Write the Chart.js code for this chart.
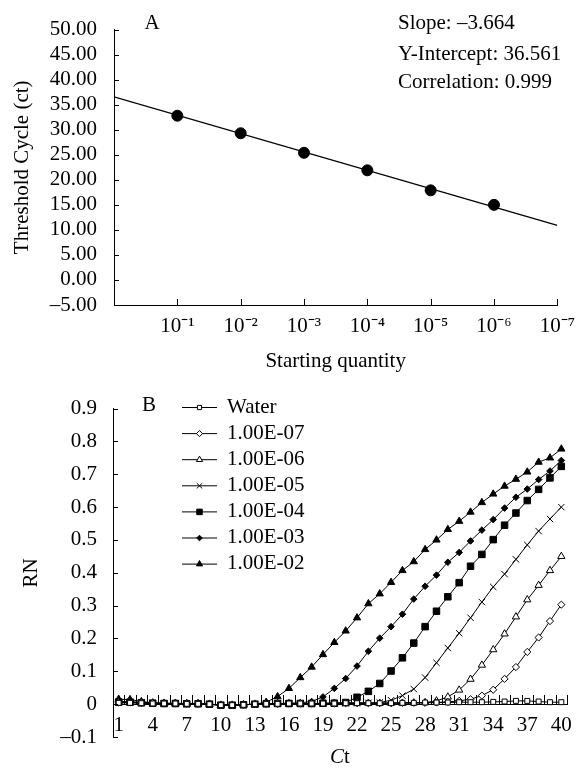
<!DOCTYPE html>
<html>
<head>
<meta charset="utf-8">
<script src="https://cdn.jsdelivr.net/npm/chart.js@4.4.1/dist/chart.umd.min.js"></script>
<style>
  html, body { margin: 0; padding: 0; background: #fff; }
  .box { position: relative; width: 584px; }
  #boxA { height: 380px; }
  #boxB { height: 390px; }
</style>
</head>
<body>
<div class="box" id="boxA"><canvas id="chartA"></canvas></div>
<div class="box" id="boxB"><canvas id="chartB"></canvas></div>
<script>
'use strict';

// ---- panel A: standard curve ----
const quantityPos = [1, 2, 3, 4, 5, 6];
const thresholdCycles = [32.8, 29.3, 25.4, 21.9, 17.9, 15.0];
const trendX = [0, 7];
const trendY = [36.56, 10.91];
const quantityTicks = [1, 2, 3, 4, 5, 6, 7];
const quantityLabels = ['10⁻¹', '10⁻²', '10⁻³', '10⁻⁴', '10⁻⁵', '10⁻⁶', '10⁻⁷'];
const statLines = ['Slope: –3.664', 'Y-Intercept: 36.561', 'Correlation: 0.999'];

// ---- panel B: amplification curves ----
const cycles = ['1', '2', '3', '4', '5', '6', '7', '8', '9', '10',
  '11', '12', '13', '14', '15', '16', '17', '18', '19', '20',
  '21', '22', '23', '24', '25', '26', '27', '28', '29', '30',
  '31', '32', '33', '34', '35', '36', '37', '38', '39', '40'];
const seriesNames = ['Water', '1.00E-07', '1.00E-06', '1.00E-05', '1.00E-04', '1.00E-03', '1.00E-02'];
const water = [0.004, 0.004, 0.003, 0.002, 0.002, 0.002, 0.001, 0.001, 0.000, -0.003,
  -0.003, -0.002, 0.000, 0.001, 0.001, 0.002, 0.002, 0.002, 0.002, 0.002,
  0.003, 0.003, 0.003, 0.003, 0.003, 0.004, 0.004, 0.005, 0.005, 0.005,
  0.006, 0.006, 0.006, 0.007, 0.008, 0.010, 0.010, 0.008, 0.006, 0.006];
const e07 = [0.005, 0.005, 0.004, 0.003, 0.002, 0.002, 0.002, 0.001, 0.000, -0.002,
  -0.002, -0.002, 0.000, 0.001, 0.001, 0.002, 0.002, 0.002, 0.002, 0.002,
  0.003, 0.003, 0.003, 0.003, 0.003, 0.004, 0.004, 0.004, 0.005, 0.007,
  0.010, 0.015, 0.026, 0.044, 0.077, 0.113, 0.159, 0.203, 0.253, 0.303];
const e06 = [0.006, 0.006, 0.004, 0.003, 0.002, 0.002, 0.001, 0.001, 0.000, -0.003,
  -0.003, -0.002, 0.000, 0.001, 0.002, 0.002, 0.002, 0.002, 0.002, 0.003,
  0.003, 0.003, 0.003, 0.003, 0.003, 0.003, 0.004, 0.005, 0.010, 0.022,
  0.043, 0.076, 0.119, 0.166, 0.214, 0.266, 0.318, 0.362, 0.407, 0.450];
const e05 = [0.008, 0.007, 0.005, 0.003, 0.002, 0.002, 0.001, 0.001, 0.000, -0.003,
  -0.003, -0.002, 0.000, 0.001, 0.002, 0.002, 0.002, 0.002, 0.002, 0.003,
  0.003, 0.003, 0.004, 0.005, 0.012, 0.026, 0.046, 0.081, 0.126, 0.171,
  0.216, 0.263, 0.311, 0.357, 0.396, 0.441, 0.485, 0.527, 0.564, 0.600];
const e04 = [0.006, 0.006, 0.004, 0.003, 0.002, 0.002, 0.001, 0.001, 0.000, -0.003,
  -0.003, -0.002, 0.000, 0.001, 0.002, 0.002, 0.002, 0.002, 0.003, 0.003,
  0.005, 0.021, 0.039, 0.063, 0.101, 0.141, 0.186, 0.236, 0.283, 0.327,
  0.370, 0.420, 0.456, 0.501, 0.545, 0.582, 0.620, 0.654, 0.689, 0.724];
const e03 = [0.008, 0.007, 0.005, 0.003, 0.002, 0.002, 0.001, 0.001, 0.000, -0.003,
  -0.003, -0.002, 0.000, 0.001, 0.002, 0.003, 0.004, 0.008, 0.022, 0.048,
  0.078, 0.116, 0.161, 0.201, 0.236, 0.274, 0.320, 0.359, 0.393, 0.432,
  0.462, 0.497, 0.530, 0.562, 0.597, 0.630, 0.655, 0.684, 0.710, 0.742];
const e02 = [0.015, 0.014, 0.008, 0.004, 0.003, 0.003, 0.002, 0.002, 0.000, -0.003,
  -0.003, -0.002, 0.000, 0.006, 0.023, 0.048, 0.081, 0.113, 0.151, 0.188,
  0.223, 0.263, 0.306, 0.336, 0.371, 0.407, 0.434, 0.471, 0.500, 0.532,
  0.557, 0.585, 0.614, 0.640, 0.664, 0.685, 0.707, 0.737, 0.750, 0.777];

const SERIF = "'Liberation Serif', 'Times New Roman', serif";
const tickFont = { family: SERIF, size: 21 };
const titleFont = { family: SERIF, size: 21 };

function fmtMinus(s) {
  return s.replace('-', '–');
}

// short tick marks drawn inside the plot, like Excel
function drawYTicks(chart, len) {
  const ctx = chart.ctx;
  const ys = chart.scales.y;
  const left = chart.chartArea.left;
  ctx.beginPath();
  for (const t of ys.ticks) {
    const py = Math.round(ys.getPixelForValue(t.value)) + 0.5;
    ctx.moveTo(left, py);
    ctx.lineTo(left + len, py);
  }
  ctx.stroke();
}

const decorA = {
  id: 'decorA',
  afterDraw(chart) {
    const ctx = chart.ctx;
    const xs = chart.scales.x;
    const ys = chart.scales.y;
    ctx.save();
    ctx.strokeStyle = '#000';
    ctx.lineWidth = 1;
    drawYTicks(chart, 5);
    const base = Math.round(ys.getPixelForValue(-5));
    ctx.beginPath();
    for (const v of quantityTicks) {
      const px = Math.round(xs.getPixelForValue(v)) + 0.5;
      ctx.moveTo(px, base);
      ctx.lineTo(px, base - 6);
    }
    ctx.stroke();

    ctx.fillStyle = '#000';
    ctx.font = '21px ' + SERIF;
    ctx.textBaseline = 'middle';
    ctx.textAlign = 'center';
    ctx.fillText('A', 152, 23);
    ctx.textAlign = 'left';
    const lineY = [23, 54, 82];
    statLines.forEach((s, i) => ctx.fillText(s, 398, lineY[i]));
    ctx.restore();
  }
};

const chartA = new Chart(document.getElementById('chartA'), {
  type: 'scatter',
  data: {
    datasets: [{
      data: trendX.map((x, i) => ({ x: x, y: trendY[i] })),
      showLine: true,
      borderColor: '#000',
      borderWidth: 1.3,
      pointRadius: 0
    }, {
      data: quantityPos.map((x, i) => ({ x: x, y: thresholdCycles[i] })),
      pointRadius: 5.5,
      pointHoverRadius: 5.5,
      backgroundColor: '#000',
      borderColor: '#000'
    }]
  },
  options: {
    responsive: true,
    maintainAspectRatio: false,
    animation: false,
    layout: { padding: { top: 21, right: 17, left: 0, bottom: 0 } },
    plugins: { legend: { display: false }, tooltip: { enabled: false } },
    scales: {
      x: {
        type: 'linear',
        min: 0,
        max: 7,
        afterFit: s => { s.height = 75; },
        grid: { display: false, drawTicks: false },
        border: { display: true, color: '#000', width: 1 },
        ticks: {
          stepSize: 1,
          autoSkip: false,
          color: '#000',
          font: tickFont,
          padding: 9,
          maxRotation: 0,
          callback: v => (v === 0 ? '' : quantityLabels[quantityTicks.indexOf(v)])
        },
        title: { display: true, text: 'Starting quantity', color: '#000', font: titleFont, padding: { top: 0, bottom: 6 } }
      },
      y: {
        min: -5,
        max: 50,
        afterFit: s => { s.width = 114; },
        grid: { display: false, drawTicks: false },
        border: { display: true, color: '#000', width: 1 },
        ticks: {
          stepSize: 5,
          autoSkip: false,
          color: '#000',
          font: tickFont,
          padding: 17,
          callback: v => fmtMinus(v.toFixed(2))
        },
        title: { display: true, text: 'Threshold Cycle (ct)', color: '#000', font: titleFont, padding: { top: 10, bottom: 0 } }
      }
    }
  },
  plugins: [decorA]
});

// marker styles per series
const markerStyle = ['rect', 'rectRot', 'triangle', 'crossRot', 'rect', 'rectRot', 'triangle'];
const markerSize = [3.5, 3.6, 4.2, 4.5, 4.6, 3.3, 4.2];
const markerFill = ['#fff', '#fff', '#fff', '#000', '#000', '#000', '#000'];
const seriesData = [water, e07, e06, e05, e04, e03, e02];

const decorB = {
  id: 'decorB',
  afterDraw(chart) {
    const ctx = chart.ctx;
    const xs = chart.scales.x;
    const ys = chart.scales.y;
    ctx.save();
    ctx.strokeStyle = '#000';
    ctx.lineWidth = 1;
    drawYTicks(chart, 5);
    // category boundary ticks on the zero line
    const zero = Math.round(ys.getPixelForValue(0));
    const step = xs.getPixelForValue(1) - xs.getPixelForValue(0);
    const start = xs.getPixelForValue(0) - step / 2;
    ctx.beginPath();
    for (let i = 0; i <= cycles.length; i++) {
      const px = Math.round(start + i * step) + 0.5;
      ctx.moveTo(px, zero);
      ctx.lineTo(px, zero - 9);
    }
    ctx.stroke();

    // legend inside the plot
    ctx.font = '21px ' + SERIF;
    ctx.textBaseline = 'middle';
    ctx.textAlign = 'left';
    chart.data.datasets.forEach((ds, i) => {
      const yy = 27 + i * 26.1;
      ctx.strokeStyle = '#000';
      ctx.beginPath();
      ctx.moveTo(182, yy + 0.5);
      ctx.lineTo(217, yy + 0.5);
      ctx.stroke();
      ctx.fillStyle = markerFill[i];
      Chart.helpers.drawPoint(ctx, {
        pointStyle: markerStyle[i],
        radius: markerSize[i] * 0.85,
        rotation: 0,
        borderWidth: 1
      }, 199.5, yy + 0.5);
      ctx.fillStyle = '#000';
      ctx.fillText(ds.label, 227, yy);
    });

    ctx.textAlign = 'center';
    ctx.fillText('B', 149, 25);

    // axis title: italic C + upright t
    const ty = 377;
    ctx.font = 'italic 21px ' + SERIF;
    const wC = ctx.measureText('C').width;
    ctx.font = '21px ' + SERIF;
    const wt = ctx.measureText('t').width;
    const cx = (chart.chartArea.left + chart.chartArea.right) / 2;
    const x0 = cx - (wC + wt) / 2;
    ctx.textAlign = 'left';
    ctx.font = 'italic 21px ' + SERIF;
    ctx.fillText('C', x0, ty);
    ctx.font = '21px ' + SERIF;
    ctx.fillText('t', x0 + wC, ty);
    ctx.restore();
  }
};

const chartB = new Chart(document.getElementById('chartB'), {
  type: 'line',
  data: {
    labels: cycles,
    datasets: seriesNames.map((name, i) => ({
      label: name,
      data: seriesData[i],
      borderColor: '#000',
      borderWidth: 1,
      tension: 0,
      pointStyle: markerStyle[i],
      pointRadius: markerSize[i],
      pointHoverRadius: markerSize[i],
      pointBackgroundColor: markerFill[i],
      pointBorderColor: '#000',
      pointBorderWidth: 1
    }))
  },
  options: {
    responsive: true,
    maintainAspectRatio: false,
    animation: false,
    layout: { padding: { top: 24, right: 17, left: 0, bottom: 33 } },
    plugins: { legend: { display: false }, tooltip: { enabled: false } },
    scales: {
      x: {
        type: 'category',
        position: { y: 0 },
        offset: true,
        grid: { display: false, drawTicks: false },
        border: { display: true, color: '#000', width: 1 },
        ticks: {
          autoSkip: false,
          maxRotation: 0,
          color: '#000',
          font: tickFont,
          padding: 9,
          callback: (v, i) => (i % 3 === 0 ? cycles[i] : '')
        }
      },
      y: {
        min: -0.1,
        max: 0.9,
        afterFit: s => { s.width = 113; },
        grid: { display: false, drawTicks: false },
        border: { display: true, color: '#000', width: 1 },
        ticks: {
          stepSize: 0.1,
          autoSkip: false,
          color: '#000',
          font: tickFont,
          padding: 16,
          callback: v => {
            const r = Math.round(v * 10) / 10;
            return r === 0 ? '0' : fmtMinus(r.toFixed(1));
          }
        },
        title: { display: true, text: 'RN', color: '#000', font: titleFont, padding: { top: 19, bottom: 0 } }
      }
    }
  },
  plugins: [decorB]
});
</script>
</body>
</html>
